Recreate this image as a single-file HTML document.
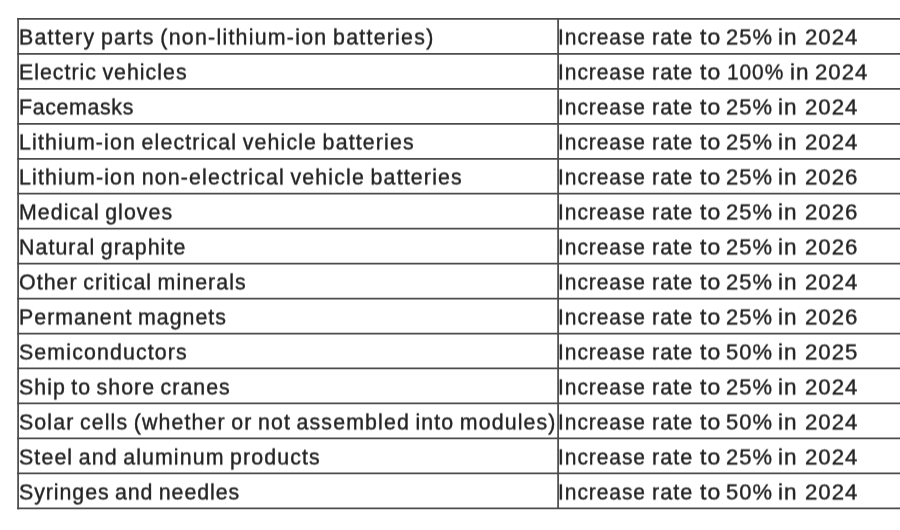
<!DOCTYPE html>
<html lang="en">
<head>
<meta charset="utf-8">
<title>Tariff rate increases</title>
<style>
html,body{margin:0;padding:0;background:#fff;}
body{width:900px;height:530px;overflow:hidden;position:relative;
  font-family:"Liberation Sans",Arial,sans-serif;color:#232323;}
svg.grid{position:absolute;left:0;top:0;}
table{filter:url(#soft);position:absolute;left:18px;top:19px;border-collapse:collapse;border-spacing:0;table-layout:fixed;width:900px;}
td{border:0;height:35.0px;padding:0;font-size:22px;line-height:35.0px;white-space:nowrap;vertical-align:top;}
td.a{width:540px;}
td span{display:inline-block;white-space:pre;-webkit-text-stroke:0.4px #222;transform-origin:0 50%;transform:scaleX(0.97);}
span.t{position:relative;top:-0.3px;left:0.5px;word-spacing:-1.6px;}
td.b{position:relative;}
span.w{position:absolute;top:-0.3px;letter-spacing:1.0px;}
.a0{left:0.28px;transform:scaleX(0.9522)}
.a1{left:94.07px;transform:scaleX(0.9832)}
.a2{left:141.73px;transform:scaleX(1.0433)}
.a3{left:168.31px;transform:scaleX(0.9975)}
.a4{left:220.44px;transform:scaleX(1.0231)}
.a5{left:246.81px;transform:scaleX(1.0086)}
.b0{left:0.28px;transform:scaleX(0.9522)}
.b1{left:94.07px;transform:scaleX(0.9832)}
.b2{left:141.73px;transform:scaleX(1.0433)}
.b3{left:169.28px;transform:scaleX(0.9487)}
.b4{left:232.44px;transform:scaleX(1.0231)}
.b5{left:257.19px;transform:scaleX(1.0086)}
</style>
</head>
<body>
<svg class="grid" width="900" height="530" viewBox="0 0 900 530"><defs><filter id="soft" x="-1%" y="-1%" width="102%" height="102%" color-interpolation-filters="sRGB"><feGaussianBlur stdDeviation="0.45 0.25"/><feConvolveMatrix order="1 2" kernelMatrix="0.5 0.5" targetX="0" targetY="1" divisor="1" edgeMode="none"/></filter></defs><g stroke="#4c4c4c" stroke-width="1.75" fill="none"><line x1="17.1" y1="18.95" x2="900" y2="18.95"/><line x1="17.1" y1="53.90" x2="900" y2="53.90"/><line x1="17.1" y1="88.85" x2="900" y2="88.85"/><line x1="17.1" y1="123.80" x2="900" y2="123.80"/><line x1="17.1" y1="158.75" x2="900" y2="158.75"/><line x1="17.1" y1="193.70" x2="900" y2="193.70"/><line x1="17.1" y1="228.65" x2="900" y2="228.65"/><line x1="17.1" y1="263.60" x2="900" y2="263.60"/><line x1="17.1" y1="298.55" x2="900" y2="298.55"/><line x1="17.1" y1="333.50" x2="900" y2="333.50"/><line x1="17.1" y1="368.45" x2="900" y2="368.45"/><line x1="17.1" y1="403.40" x2="900" y2="403.40"/><line x1="17.1" y1="438.35" x2="900" y2="438.35"/><line x1="17.1" y1="473.30" x2="900" y2="473.30"/><line x1="17.1" y1="508.25" x2="900" y2="508.25"/><line x1="18.1" y1="18.05" x2="18.1" y2="509.15"/><line x1="558.1" y1="18.95" x2="558.1" y2="508.25"/></g></svg>
<table>
<tr><td class="a"><span class="t" style="letter-spacing:1.29px">Battery parts (non-lithium-ion batteries)</span></td><td class="b"><span class="w a0">Increase </span><span class="w a1">rate </span><span class="w a2">to </span><span class="w a3">25% </span><span class="w a4">in </span><span class="w a5">2024</span></td></tr>
<tr><td class="a"><span class="t" style="letter-spacing:1.04px">Electric vehicles</span></td><td class="b"><span class="w b0">Increase </span><span class="w b1">rate </span><span class="w b2">to </span><span class="w b3">100% </span><span class="w b4">in </span><span class="w b5">2024</span></td></tr>
<tr><td class="a"><span class="t" style="letter-spacing:0.67px">Facemasks</span></td><td class="b"><span class="w a0">Increase </span><span class="w a1">rate </span><span class="w a2">to </span><span class="w a3">25% </span><span class="w a4">in </span><span class="w a5">2024</span></td></tr>
<tr><td class="a"><span class="t" style="letter-spacing:1.18px">Lithium-ion electrical vehicle batteries</span></td><td class="b"><span class="w a0">Increase </span><span class="w a1">rate </span><span class="w a2">to </span><span class="w a3">25% </span><span class="w a4">in </span><span class="w a5">2024</span></td></tr>
<tr><td class="a"><span class="t" style="letter-spacing:1.20px">Lithium-ion non-electrical vehicle batteries</span></td><td class="b"><span class="w a0">Increase </span><span class="w a1">rate </span><span class="w a2">to </span><span class="w a3">25% </span><span class="w a4">in </span><span class="w a5">2026</span></td></tr>
<tr><td class="a"><span class="t" style="letter-spacing:1.07px">Medical gloves</span></td><td class="b"><span class="w a0">Increase </span><span class="w a1">rate </span><span class="w a2">to </span><span class="w a3">25% </span><span class="w a4">in </span><span class="w a5">2026</span></td></tr>
<tr><td class="a"><span class="t" style="letter-spacing:1.10px">Natural graphite</span></td><td class="b"><span class="w a0">Increase </span><span class="w a1">rate </span><span class="w a2">to </span><span class="w a3">25% </span><span class="w a4">in </span><span class="w a5">2026</span></td></tr>
<tr><td class="a"><span class="t" style="letter-spacing:1.10px">Other critical minerals</span></td><td class="b"><span class="w a0">Increase </span><span class="w a1">rate </span><span class="w a2">to </span><span class="w a3">25% </span><span class="w a4">in </span><span class="w a5">2024</span></td></tr>
<tr><td class="a"><span class="t" style="letter-spacing:1.05px">Permanent magnets</span></td><td class="b"><span class="w a0">Increase </span><span class="w a1">rate </span><span class="w a2">to </span><span class="w a3">25% </span><span class="w a4">in </span><span class="w a5">2026</span></td></tr>
<tr><td class="a"><span class="t" style="letter-spacing:1.17px">Semiconductors</span></td><td class="b"><span class="w a0">Increase </span><span class="w a1">rate </span><span class="w a2">to </span><span class="w a3">50% </span><span class="w a4">in </span><span class="w a5">2025</span></td></tr>
<tr><td class="a"><span class="t" style="letter-spacing:1.07px">Ship to shore cranes</span></td><td class="b"><span class="w a0">Increase </span><span class="w a1">rate </span><span class="w a2">to </span><span class="w a3">25% </span><span class="w a4">in </span><span class="w a5">2024</span></td></tr>
<tr><td class="a"><span class="t" style="letter-spacing:1.16px">Solar cells (whether or not assembled into modules)</span></td><td class="b"><span class="w a0">Increase </span><span class="w a1">rate </span><span class="w a2">to </span><span class="w a3">50% </span><span class="w a4">in </span><span class="w a5">2024</span></td></tr>
<tr><td class="a"><span class="t" style="letter-spacing:1.15px">Steel and aluminum products</span></td><td class="b"><span class="w a0">Increase </span><span class="w a1">rate </span><span class="w a2">to </span><span class="w a3">25% </span><span class="w a4">in </span><span class="w a5">2024</span></td></tr>
<tr><td class="a"><span class="t" style="letter-spacing:0.98px">Syringes and needles</span></td><td class="b"><span class="w a0">Increase </span><span class="w a1">rate </span><span class="w a2">to </span><span class="w a3">50% </span><span class="w a4">in </span><span class="w a5">2024</span></td></tr>
</table>
</body>
</html>
